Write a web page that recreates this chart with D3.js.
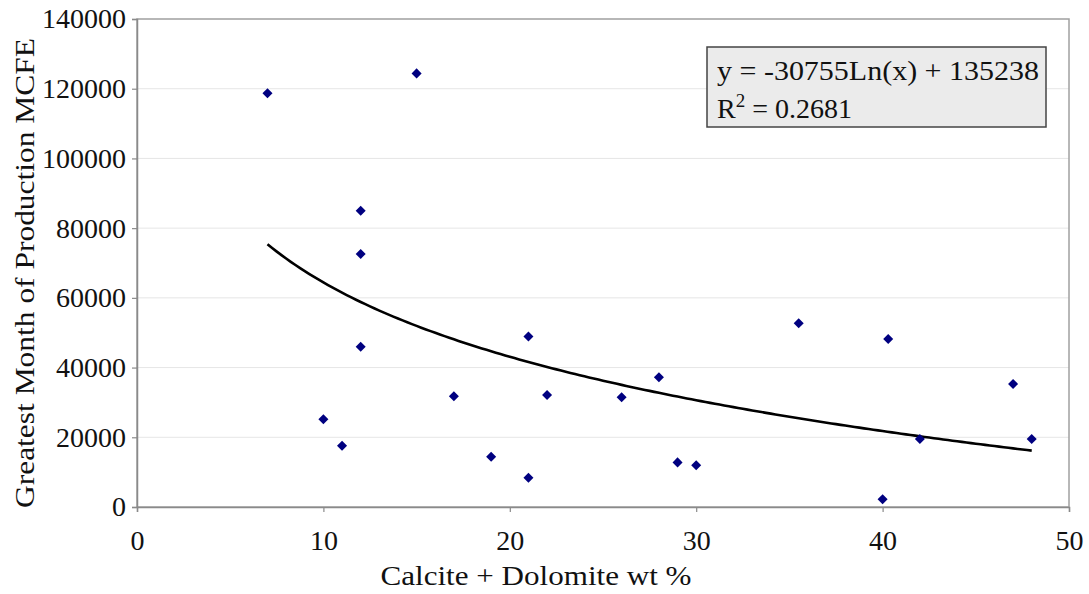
<!DOCTYPE html>
<html>
<head>
<meta charset="utf-8">
<script src="https://cdn.jsdelivr.net/npm/d3@7"></script>
<style>
  body { margin: 0; background: #fff; }
</style>
</head>
<body>
<svg id="chart" width="1089" height="594"></svg>
<script>
// calcite + dolomite wt % for each well
var calciteDolomite = [7, 15, 12, 12, 12, 10, 11, 17, 19, 21, 21, 22, 26, 28, 29, 30, 35.5, 40.3, 40, 42, 47, 48];
// greatest month of production (MCFE)
var greatestMonth = [118700, 124400, 85000, 72600, 46000, 25200, 17600, 31800, 14400, 48900, 8400, 32100,
                     31500, 37200, 12800, 12000, 52700, 48200, 2200, 19500, 35300, 19500];

var xTicks = [0, 10, 20, 30, 40, 50];
var yTicks = [0, 20000, 40000, 60000, 80000, 100000, 120000, 140000];

// log trendline reported on the chart
var trendA = -30755;
var trendB = 135238;
var trendR2 = "0.2681";

var FONT = "'Liberation Serif'";

var svg = d3.select("#chart");
svg.append("rect").attr("width", 1089).attr("height", 594).attr("fill", "#fff");

var plot = {left: 137, top: 19, right: 1069, bottom: 507};

var x = d3.scaleLinear().domain([0, 50]).range([plot.left, plot.right]);
var y = d3.scaleLinear().domain([0, 140000]).range([plot.bottom, plot.top]);

// gridlines
svg.append("g")
  .selectAll("line")
  .data(yTicks.slice(1, -1))
  .enter()
  .append("line")
  .attr("x1", plot.left).attr("x2", plot.right)
  .attr("y1", function(d){ return y(d); })
  .attr("y2", function(d){ return y(d); })
  .attr("stroke", "#e6e6e6")
  .attr("stroke-width", 1);

// frame
svg.append("rect")
  .attr("x", plot.left).attr("y", plot.top)
  .attr("width", plot.right - plot.left)
  .attr("height", plot.bottom - plot.top)
  .attr("fill", "none")
  .attr("stroke", "#a0a0a0")
  .attr("stroke-width", 1.5);

// axes, tick labels drawn by hand-styled text from d3's axis
var xAxis = d3.axisBottom(x).tickValues(xTicks).tickSize(5).tickPadding(18).tickFormat(d3.format("d"));
var yAxis = d3.axisLeft(y).tickValues(yTicks).tickSize(5).tickPadding(6).tickFormat(d3.format("d"));

var gx = svg.append("g").attr("transform", "translate(0," + plot.bottom + ")").call(xAxis);
var gy = svg.append("g").attr("transform", "translate(" + plot.left + ",0)").call(yAxis);

[gx, gy].forEach(function(g){
  g.attr("font-family", "Liberation Serif").attr("font-size", 28);
  g.select(".domain").attr("stroke", "#8a8a8a").attr("stroke-width", 1.5);
  g.selectAll(".tick line").attr("stroke", "#8a8a8a").attr("stroke-width", 1.2);
  g.selectAll(".tick text")
    .attr("font-family", "Liberation Serif")
    .style("font-family", FONT)
    .style("font-size", "28px")
    .attr("fill", "#111");
});

// trendline over the data range
var xMin = d3.min(calciteDolomite), xMax = d3.max(calciteDolomite);
var trendPts = d3.range(xMin, xMax + 0.001, 0.25).map(function(v){
  return [v, trendA * Math.log(v) + trendB];
});

svg.append("path")
  .datum(trendPts)
  .attr("fill", "none")
  .attr("stroke", "#000")
  .attr("stroke-width", 2.6)
  .attr("d", d3.line()
    .x(function(d){ return x(d[0]); })
    .y(function(d){ return y(d[1]); }));

// data points
var pts = calciteDolomite.map(function(v, i){ return {x: v, y: greatestMonth[i]}; });
svg.append("g")
  .selectAll("path")
  .data(pts)
  .enter()
  .append("path")
  .attr("d", d3.symbol().type(d3.symbolDiamond2).size(64))
  .attr("transform", function(d){ return "translate(" + x(d.x) + "," + y(d.y) + ")"; })
  .attr("fill", "#000080");

// equation box
var box = svg.append("g");
box.append("rect")
  .attr("x", 707).attr("y", 47)
  .attr("width", 339).attr("height", 80)
  .attr("fill", "#ebebeb")
  .attr("stroke", "#444")
  .attr("stroke-width", 1.5);

box.append("text")
  .attr("x", 717).attr("y", 80)
  .attr("font-family", "Liberation Serif")
  .style("font-family", FONT)
  .style("font-size", "28px")
  .attr("fill", "#111")
  .attr("textLength", 322)
  .attr("lengthAdjust", "spacingAndGlyphs")
  .text("y = " + trendA + "Ln(x) + " + trendB);

var r2 = box.append("text")
  .attr("x", 717).attr("y", 118)
  .attr("font-family", "Liberation Serif")
  .style("font-family", FONT)
  .style("font-size", "28px")
  .attr("fill", "#111");
r2.append("tspan").text("R");
r2.append("tspan").attr("dy", -11).style("font-size", "19px").text("2");
r2.append("tspan").attr("dy", 11).text(" = " + trendR2);

// axis titles
svg.append("text")
  .attr("x", (380 + 692) / 2)
  .attr("y", 585)
  .attr("font-family", "Liberation Serif")
  .style("text-anchor", "middle")
  .style("font-family", FONT)
  .style("font-size", "28px")
  .attr("fill", "#111")
  .attr("textLength", 311)
  .attr("lengthAdjust", "spacingAndGlyphs")
  .text("Calcite + Dolomite wt %");

svg.append("text")
  .attr("transform", "translate(34," + 273 + ") rotate(-90)")
  .attr("font-family", "Liberation Serif")
  .style("text-anchor", "middle")
  .style("font-family", FONT)
  .style("font-size", "28px")
  .attr("fill", "#111")
  .attr("textLength", 470)
  .attr("lengthAdjust", "spacingAndGlyphs")
  .text("Greatest Month of Production MCFE");
</script>
</body>
</html>
